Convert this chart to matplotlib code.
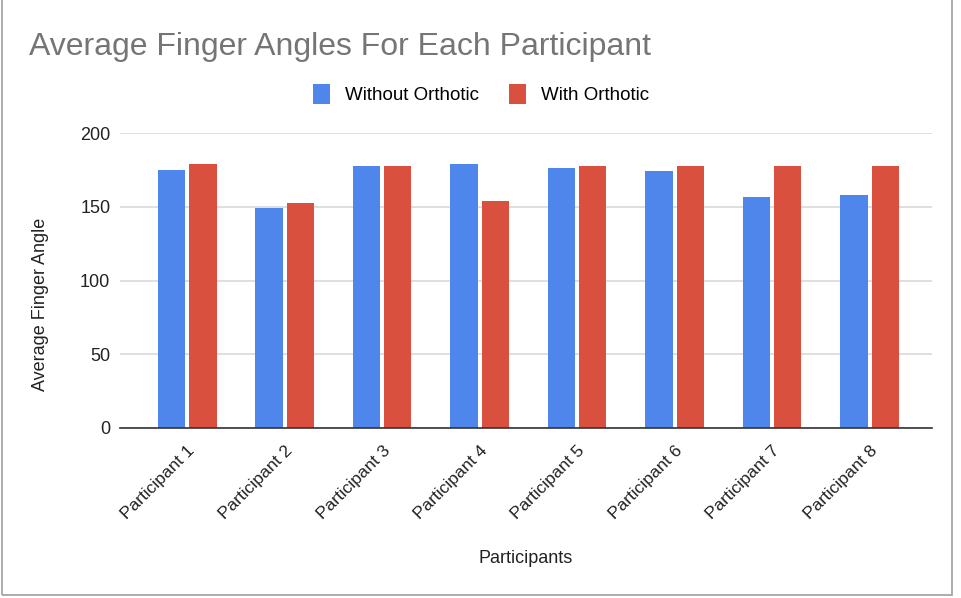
import numpy as np
import matplotlib
matplotlib.use('Agg')
import matplotlib.pyplot as plt
from matplotlib.patches import Rectangle

plt.rcParams['font.family'] = ['Liberation Sans', 'DejaVu Sans']

participants = ['Participant 1', 'Participant 2', 'Participant 3', 'Participant 4',
                'Participant 5', 'Participant 6', 'Participant 7', 'Participant 8']
without_orthotic = [175.2, 149.3, 177.5, 179.0, 176.3, 174.0, 156.8, 157.7]
with_orthotic = [179.1, 152.7, 177.5, 153.8, 177.5, 177.5, 177.5, 177.5]

W, H = 962, 598
fig = plt.figure(figsize=(W / 100, H / 100), dpi=100)
ax = fig.add_axes([120 / W, 1 - 428 / H, (932 - 120) / W, (428 - 133) / H])

x = np.arange(len(participants))
bw = 0.28
ax.bar(x - bw / 2 - 0.02, without_orthotic, bw, color='#4f86ec', label='Without Orthotic', zorder=3)
ax.bar(x + bw / 2 + 0.02, with_orthotic, bw, color='#d9503f', label='With Orthotic', zorder=3)

ax.set_ylim(0, 200)
ax.set_xlim(-0.69, 7.64)
ax.set_yticks([0, 50, 100, 150, 200])
ax.grid(axis='y', color='#d9d9d9', linewidth=1.2, zorder=0)
for s in ['top', 'right', 'left']:
    ax.spines[s].set_visible(False)
ax.spines['bottom'].set_color('#333333')
ax.spines['bottom'].set_linewidth(1.2)
ax.spines['bottom'].set_zorder(4)
ax.tick_params(axis='y', length=0, labelsize=13, colors='#222222', pad=7)
ax.tick_params(axis='x', length=0, labelsize=12.5, colors='#222222', pad=11)
ax.set_xticks(x)
ax.set_xticklabels(participants, rotation=45, ha='right', rotation_mode='anchor')

ax.set_xlabel('Participants', fontsize=13, color='#222222', labelpad=20)
fig.text(41 / W, 1 - 304 / H, 'Average Finger Angle', rotation=90, fontsize=13,
         color='#222222', ha='center', va='center')

fig.text(29 / W, 1 - 47 / H, 'Average Finger Angles For Each Participant',
         fontsize=23, color='#757575', ha='left', va='center')

fig.legend(loc='center', bbox_to_anchor=(481 / W, 1 - 94 / H), ncol=2, frameon=False,
           fontsize=13.5, handlelength=0.9, handleheight=1.3, columnspacing=1.6,
           handletextpad=0.8)

fig.patches.append(Rectangle((2 / W, 1 - 595 / H), 950 / W, 600 / H, fill=False,
                             edgecolor='#9e9e9e', linewidth=1.2,
                             transform=fig.transFigure, figure=fig))

fig.savefig('out.png', dpi=100, facecolor='white')
